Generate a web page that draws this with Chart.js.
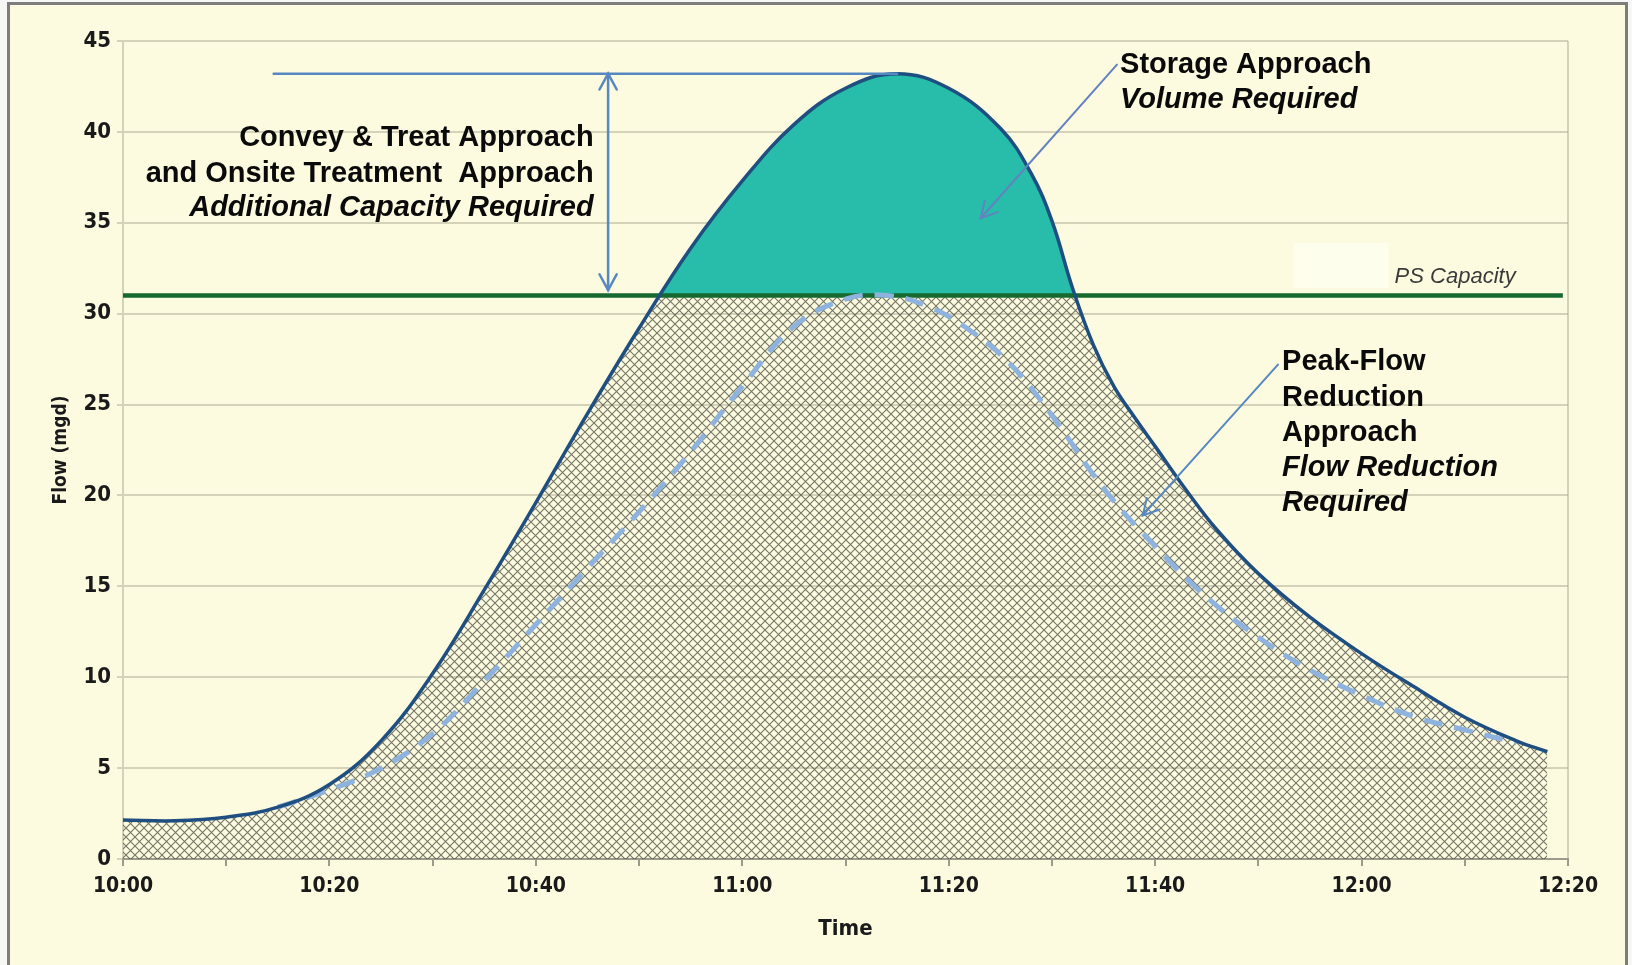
<!DOCTYPE html>
<html>
<head>
<meta charset="utf-8">
<script src="https://cdn.jsdelivr.net/npm/chart.js@4.4.1/dist/chart.umd.min.js"></script>
<style>
  html, body { margin: 0; padding: 0; background: #f7f7f5; }
  #frame {
    position: absolute; left: 7px; top: 2px; width: 1615px; height: 975px;
    background: #fcfadf; border: 3px solid #7d7d7d; border-bottom: none;
  }
  #wrap { position: absolute; left: 0; top: 0; width: 1632px; height: 965px; }
</style>
</head>
<body>
<div id="frame"></div>
<div id="wrap"><canvas id="chart" width="1632" height="965"></canvas></div>
<script>
// minutes after 10:00
const flowMinutes = [0, 5, 10, 15, 20, 25, 30, 35, 40, 45, 50, 55, 60, 65, 70, 75, 80, 85, 88, 90, 92, 94, 96, 98, 100, 103, 106, 110, 115, 120, 125, 130, 135, 138];
const flowMgd = [2.15, 2.1, 2.3, 2.85, 4.1, 6.5, 10.2, 14.8, 19.6, 24.5, 29.2, 33.6, 37.3, 40.4, 42.4, 43.2, 42.4, 40.2, 37.7, 35.1, 31.4, 28.3, 26.0, 24.3, 22.7, 20.3, 18.1, 15.7, 13.3, 11.3, 9.5, 7.8, 6.5, 5.9];

const reducedMinutes = [15, 20, 25, 30, 35, 40, 45, 50, 55, 60, 65, 70, 74, 78, 82, 86, 90, 95, 100, 105, 110, 115, 120, 125, 130, 135];
const reducedMgd = [2.85, 3.8, 5.0, 6.9, 9.8, 12.9, 16.0, 19.1, 22.4, 26.0, 29.3, 30.8, 31.0, 30.4, 29.1, 27.2, 24.4, 20.4, 17.2, 14.4, 12.2, 10.4, 9.0, 7.85, 7.1, 6.4];

const psCapacity = 31;
const psMinutes = [0, 139.5];

const tickMinutes = [0, 20, 40, 60, 80, 100, 120, 140];
const tickLabels = ["10:00", "10:20", "10:40", "11:00", "11:20", "11:40", "12:00", "12:20"];

const flowPts = flowMinutes.map((m, i) => ({ x: m, y: flowMgd[i] }));
const reducedPts = reducedMinutes.map((m, i) => ({ x: m, y: reducedMgd[i] }));
const psPts = psMinutes.map(m => ({ x: m, y: psCapacity }));

const narrow = '"Liberation Sans Narrow", "Arial Narrow", "DejaVu Sans Condensed", "Liberation Sans", sans-serif';
const sans = '"Liberation Sans", Arial, sans-serif';
const gridCol = "rgba(165,162,140,0.45)";
const arrowCol = "#5688c2";

function makeHatch() {
  const c = document.createElement("canvas");
  c.width = 9; c.height = 9;
  const g = c.getContext("2d");
  g.strokeStyle = "rgba(75,73,62,0.75)";
  g.lineWidth = 1.1;
  g.beginPath();
  g.moveTo(-1, -1); g.lineTo(10, 10);
  g.moveTo(10, -1); g.lineTo(-1, 10);
  g.stroke();
  return g.createPattern(c, "repeat");
}

function arrowHead(ctx, x1, y1, x2, y2) {
  const a = Math.atan2(y2 - y1, x2 - x1);
  const len = 18, spread = 0.5;
  ctx.beginPath();
  ctx.moveTo(x2 - len * Math.cos(a - spread), y2 - len * Math.sin(a - spread));
  ctx.lineTo(x2, y2);
  ctx.lineTo(x2 - len * Math.cos(a + spread), y2 - len * Math.sin(a + spread));
  ctx.stroke();
}

const notes = {
  id: "notes",
  beforeDatasetsDraw(chart) {
    const { ctx, scales: { x, y } } = chart;
    // faint pale box left of the PS Capacity label
    ctx.save();
    ctx.fillStyle = "#fefeed";
    const l = x.getPixelForValue(113.4), t = y.getPixelForValue(33.9);
    ctx.fillRect(l, t, x.getPixelForValue(122.6) - l, y.getPixelForValue(31.4) - t);
    ctx.restore();
  },
  afterDatasetsDraw(chart) {
    const { ctx, scales: { x, y } } = chart;
    const X = v => x.getPixelForValue(v), Y = v => y.getPixelForValue(v);
    ctx.save();
    ctx.strokeStyle = arrowCol;
    ctx.lineWidth = 2.5;
    ctx.lineCap = "round";

    // peak level line and double arrow
    ctx.beginPath();
    ctx.moveTo(X(14.6), Y(43.2)); ctx.lineTo(X(75), Y(43.2));
    ctx.stroke();
    ctx.beginPath();
    ctx.moveTo(X(47), Y(43.2)); ctx.lineTo(X(47), Y(31.3));
    ctx.stroke();
    arrowHead(ctx, X(47), Y(31.3), X(47), Y(43.2));
    arrowHead(ctx, X(47), Y(43.2), X(47), Y(31.3));

    // storage arrow
    ctx.lineWidth = 2;
    ctx.strokeStyle = "#6282c0";
    ctx.beginPath();
    ctx.moveTo(X(96.3), Y(43.7)); ctx.lineTo(X(83.1), Y(35.25));
    ctx.stroke();
    arrowHead(ctx, X(96.3), Y(43.7), X(83.1), Y(35.25));

    // peak-flow arrow
    ctx.strokeStyle = arrowCol;
    ctx.beginPath();
    ctx.moveTo(X(111.9), Y(27.2)); ctx.lineTo(X(98.8), Y(18.9));
    ctx.stroke();
    arrowHead(ctx, X(111.9), Y(27.2), X(98.8), Y(18.9));

    ctx.fillStyle = "#0a0a0a";
    ctx.textBaseline = "middle";
    const bold = "bold 29px " + sans, ital = "italic bold 29px " + sans;

    ctx.textAlign = "right";
    ctx.font = bold;
    ctx.fillText("Convey & Treat Approach", X(45.6), Y(39.65));
    ctx.fillText("and Onsite Treatment  Approach", X(45.6), Y(37.67));
    ctx.font = ital;
    ctx.fillText("Additional Capacity Required", X(45.6), Y(35.8));

    ctx.textAlign = "left";
    ctx.font = bold;
    ctx.fillText("Storage Approach", X(96.6), Y(43.68));
    ctx.font = ital;
    ctx.fillText("Volume Required", X(96.6), Y(41.78));

    ctx.font = bold;
    ctx.fillText("Peak-Flow", X(112.3), Y(27.33));
    ctx.fillText("Reduction", X(112.3), Y(25.37));
    ctx.fillText("Approach", X(112.3), Y(23.42));
    ctx.font = ital;
    ctx.fillText("Flow Reduction", X(112.3), Y(21.5));
    ctx.fillText("Required", X(112.3), Y(19.57));

    ctx.fillStyle = "#3a3a3a";
    ctx.font = "italic 22px " + sans;
    ctx.fillText("PS Capacity", X(123.2), Y(32.05));
    ctx.restore();
  }
};

new Chart(document.getElementById("chart"), {
  type: "line",
  data: {
    datasets: [
      {
        label: "Flow area", data: flowPts, showLine: false, borderColor: "transparent",
        pointRadius: 0, fill: "origin", backgroundColor: makeHatch(),
        tension: 0.4, order: 4
      },
      {
        label: "Flow", data: flowPts, borderColor: "#1f4e80", borderWidth: 3.5, pointRadius: 0,
        fill: { target: { value: psCapacity }, above: "#28bcaa", below: "rgba(0,0,0,0)" },
        tension: 0.4, order: 1
      },
      {
        label: "PS Capacity", data: psPts, borderColor: "#16692f", borderWidth: 4.5,
        pointRadius: 0, fill: false, order: 3
      },
      {
        label: "Reduced flow", data: reducedPts, borderColor: "#8db3de", borderWidth: 5,
        borderDash: [19, 12], pointRadius: 0, fill: false,
        tension: 0.4, order: 2
      }
    ]
  },
  options: {
    responsive: false,
    animation: false,
    layout: { padding: { top: 41, right: 64, left: 0, bottom: 0 } },
    plugins: {
      legend: { display: false },
      tooltip: { enabled: false },
      filler: { drawTime: "beforeDatasetsDraw" }
    },
    scales: {
      x: {
        type: "linear", min: 0, max: 140,
        afterFit: s => { s.height = 106; },
        ticks: {
          stepSize: 10, autoSkip: false, maxRotation: 0, padding: 8,
          color: "#1a1a1a", font: { family: narrow, size: 21, weight: "bold" },
          callback: v => {
            const i = tickMinutes.indexOf(v);
            return i >= 0 ? tickLabels[i] : "";
          }
        },
        grid: {
          color: c => (c.tick && c.tick.value === 140 ? gridCol : "transparent"),
          tickColor: "#9b9a8c", lineWidth: 2, tickLength: 7
        },
        border: { color: "#9b9a8c", width: 2 },
        title: {
          display: true, text: "Time", color: "#1a1a1a",
          font: { family: narrow, size: 22, weight: "bold" }, padding: { top: 4, bottom: 23 }
        }
      },
      y: {
        min: 0, max: 45,
        afterFit: s => { s.width = 123; },
        ticks: {
          stepSize: 5, padding: 6, color: "#1a1a1a",
          font: { family: narrow, size: 22, weight: "bold" }
        },
        grid: { color: gridCol, lineWidth: 2, tickLength: 6 },
        border: { color: gridCol, width: 2 },
        title: {
          display: true, text: "Flow (mgd)", color: "#1a1a1a",
          font: { family: narrow, size: 19, weight: "bold" }, padding: { top: 50 }
        }
      }
    }
  },
  plugins: [notes]
});
</script>
</body>
</html>
